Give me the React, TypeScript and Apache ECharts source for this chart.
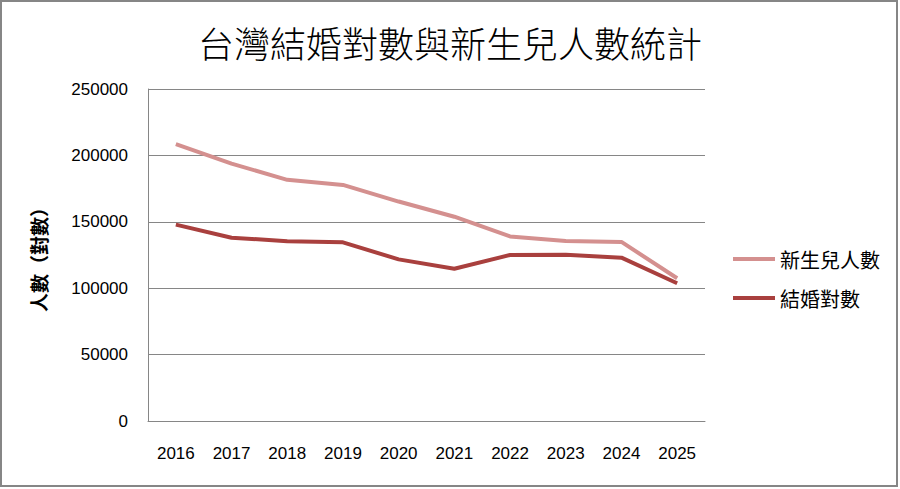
import React, { useEffect, useRef } from "react";
import * as echarts from "echarts";

const years = ["2016", "2017", "2018", "2019", "2020", "2021", "2022", "2023", "2024", "2025"];
const births = [208440, 193844, 181601, 177767, 165249, 153820, 138986, 135571, 134856, 107500];
const marriages = [147861, 138034, 135403, 134524, 121702, 114606, 124997, 125096, 123000, 103700];
const titleText = "台灣結婚對數與新生兒人數統計";
const yName = "人數（對數）";
const seriesNames = ["新生兒人數", "結婚對數"];

export default function App() {
  const ref = useRef<HTMLDivElement>(null);
  useEffect(() => {
    if (!ref.current) return;
    const chart = echarts.init(ref.current, null, { renderer: "svg" });
    const axisColor = "#868686";
    chart.setOption({
      animation: false,
      backgroundColor: "#ffffff",
      title: {
        text: titleText,
        left: "center",
        top: 19,
        textStyle: {
          fontFamily: "Noto Sans CJK TC",
          fontSize: 36,
          fontWeight: 300,
          color: "#000",
        },
      },
      graphic: [
        {
          type: "rect",
          shape: { x: 1, y: 1, width: 896, height: 485 },
          style: { fill: "none", stroke: axisColor, lineWidth: 2 },
          silent: true,
        },
      ],
      legend: {
        orient: "vertical",
        left: 733,
        top: 249,
        padding: 0,
        itemWidth: 42,
        itemHeight: 4,
        itemGap: 19,
        icon: "rect",
        textStyle: { fontFamily: "Noto Sans CJK TC", fontSize: 20, color: "#000" },
        data: seriesNames,
      },
      grid: { left: 148, right: 195, top: 89, bottom: 68 },
      xAxis: {
        type: "category",
        data: years,
        boundaryGap: true,
        axisLine: { lineStyle: { color: axisColor, width: 1 } },
        axisTick: { show: false },
        axisLabel: {
          color: "#000",
          fontFamily: "Liberation Sans",
          fontSize: 17,
          margin: 24,
        },
      },
      yAxis: {
        type: "value",
        min: 0,
        max: 250000,
        interval: 50000,
        name: yName,
        nameLocation: "middle",
        nameGap: 100,
        nameRotate: 90,
        nameTextStyle: {
          fontFamily: "Noto Sans CJK TC",
          fontSize: 19,
          fontWeight: "bold",
          color: "#000",
        },
        axisLine: { show: true, lineStyle: { color: axisColor, width: 1 } },
        axisTick: { show: false },
        splitLine: { lineStyle: { color: axisColor, width: 1 } },
        axisLabel: {
          color: "#000",
          fontFamily: "Liberation Sans",
          fontSize: 17,
          margin: 20,
          formatter: (v: number) => String(v),
        },
      },
      series: [
        {
          name: seriesNames[0],
          type: "line",
          data: births,
          symbol: "none",
          color: "#D4908F",
          lineStyle: { width: 4, color: "#D4908F" },
        },
        {
          name: seriesNames[1],
          type: "line",
          data: marriages,
          symbol: "none",
          color: "#A9403E",
          lineStyle: { width: 4, color: "#A9403E" },
        },
      ],
    });
    return () => chart.dispose();
  }, []);
  return (
    <div
      ref={ref}
      style={{ position: "absolute", left: 0, top: 0, width: 900, height: 489 }}
    />
  );
}
